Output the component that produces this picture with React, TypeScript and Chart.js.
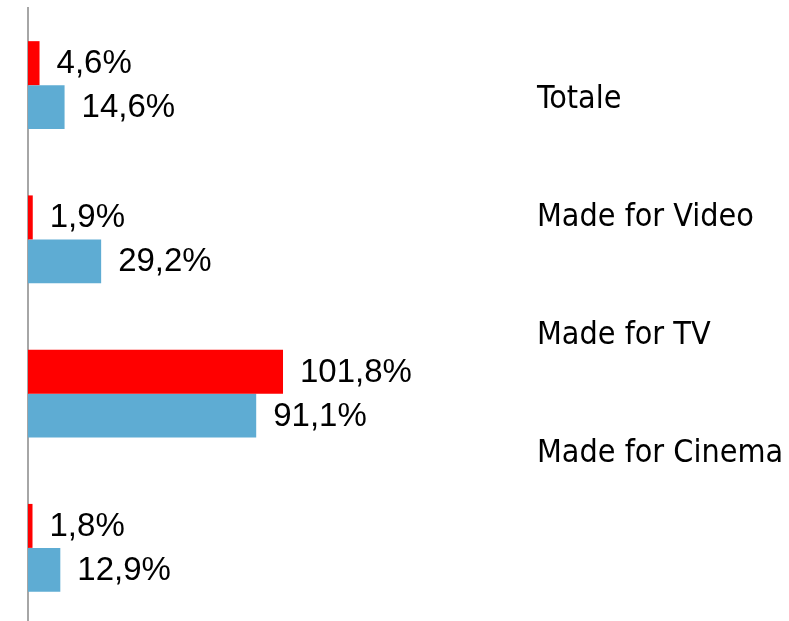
import React, { useEffect, useRef } from 'react';
import { Chart, registerables } from 'chart.js';

Chart.register(...registerables);

const categories = ['Totale', 'Made for Video', 'Made for TV', 'Made for Cinema'];
const redSeries = [4.6, 1.9, 101.8, 1.8];
const blueSeries = [14.6, 29.2, 91.1, 12.9];

const formatPct = (v: number) => v.toFixed(1).replace('.', ',') + '%';

const valueLabels = {
  id: 'valueLabels',
  afterDatasetsDraw(chart: any) {
    const ctx = chart.ctx;
    ctx.save();
    ctx.font = '33px "Liberation Sans", Arial, sans-serif';
    ctx.fillStyle = '#000000';
    ctx.textBaseline = 'middle';
    ctx.textAlign = 'left';
    chart.data.datasets.forEach((ds: any, i: number) => {
      const meta = chart.getDatasetMeta(i);
      meta.data.forEach((el: any, j: number) => {
        ctx.fillText(formatPct(ds.data[j]), el.x + 17, el.y + 1);
      });
    });
    ctx.restore();
  },
};

export default function App() {
  const ref = useRef<HTMLCanvasElement | null>(null);

  useEffect(() => {
    if (!ref.current) return;
    const chart = new Chart(ref.current, {
      type: 'bar',
      data: {
        labels: categories,
        datasets: [
          { label: 'Serie 1', data: redSeries, backgroundColor: '#ff0000', borderWidth: 0 },
          { label: 'Serie 2', data: blueSeries, backgroundColor: '#5eacd3', borderWidth: 0 },
        ],
      },
      options: {
        indexAxis: 'y',
        responsive: false,
        animation: false,
        events: [],
        layout: { padding: { left: 28, top: 8, bottom: 5, right: 0 } },
        datasets: { bar: { categoryPercentage: 0.57, barPercentage: 1.0 } },
        plugins: { legend: { display: false }, tooltip: { enabled: false }, title: { display: false } },
        scales: {
          x: { type: 'linear', min: 0, max: 200, display: false },
          y: {
            type: 'category',
            position: 'left',
            grid: { display: false, drawTicks: false },
            ticks: { display: false },
            border: { display: true, color: '#a6a6a6', width: 2 },
            afterFit: (s: any) => { s.width = 0; s.paddingTop = 0; s.paddingBottom = 0; },
          },
          y2: {
            type: 'linear',
            position: 'right',
            min: 0.221,
            max: 5.45,
            bounds: 'data',
            offset: false,
            reverse: true,
            grid: { display: false, drawTicks: false, offset: false },
            border: { display: false },
            afterBuildTicks: (s: any) => {
              s.ticks = categories.map((_, i) => ({ value: i + 1 }));
            },
            ticks: {
              callback: (v: any) => categories[Number(v) - 1] ?? '',
              font: { family: '"DejaVu Sans Condensed", "DejaVu Sans", sans-serif', size: 32 },
              color: '#000000',
              padding: 8,
              autoSkip: false,
            },
            afterFit: (s: any) => { s.width = 271; s.paddingTop = 0; s.paddingBottom = 0; },
          },
        },
      },
      plugins: [valueLabels],
    } as any);
    return () => chart.destroy();
  }, []);

  return (
    <div style={{ position: 'fixed', left: 0, top: 0, width: 789, height: 621, overflow: 'hidden', background: '#ffffff' }}>
      <canvas ref={ref} width={800} height={630} style={{ display: 'block', width: 800, height: 630 }} />
    </div>
  );
}
